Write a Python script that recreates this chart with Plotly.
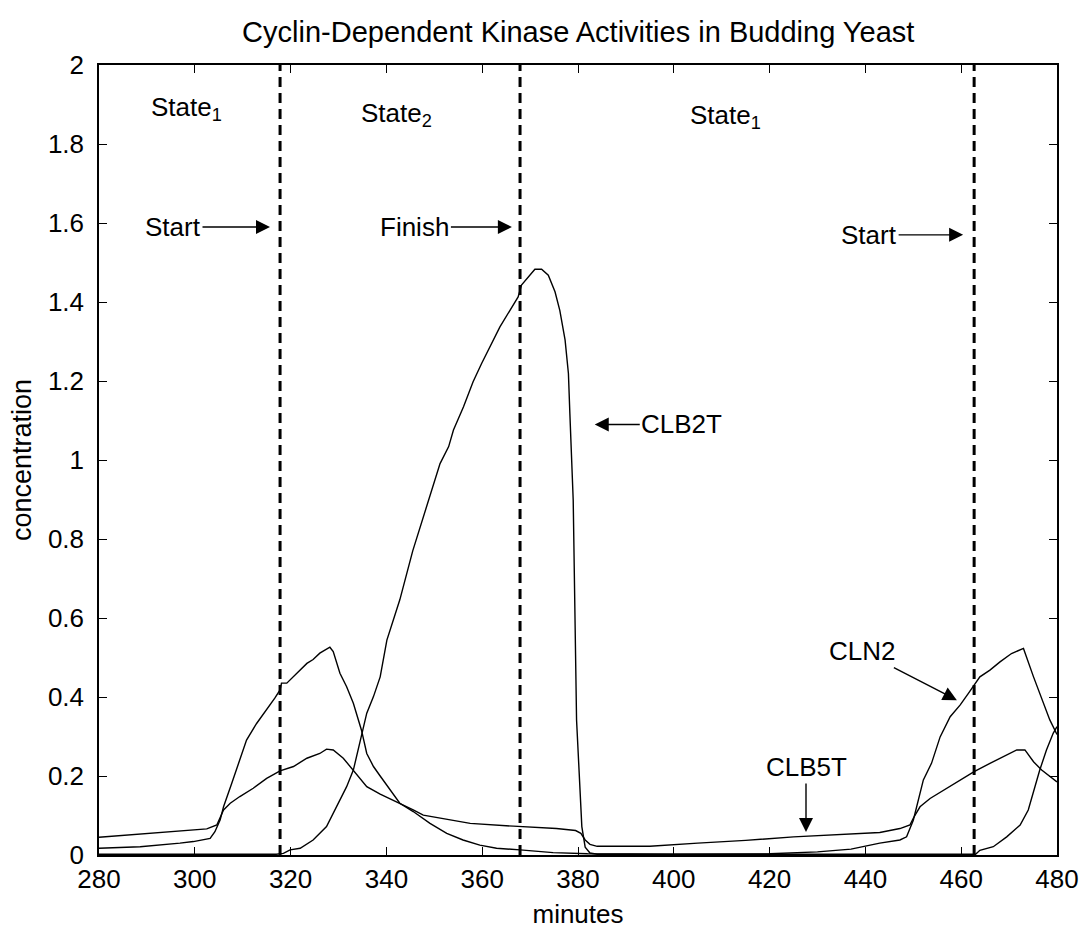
import plotly.graph_objects as go

# ---------------- data ----------------
cln2_t = [280, 288.6, 296.9, 299.7, 303.2, 304.2, 305.3, 306.0, 307.7, 309.1, 310.8, 312.9, 315.0,
          316.7, 317.8, 318.1, 319.2, 321.3, 323.4, 324.7, 326.1, 328.2, 328.9, 330.3, 331.7, 333.1,
          334.8, 335.9, 337.3, 338.7, 340.7, 342.8, 345.6, 349.1, 352.6, 356.0, 359.5, 363.0, 367.9,
          374.8, 382, 400, 420, 430, 437, 443, 447.2, 448.6, 450.0, 452.1, 453.8, 455.6, 457.7, 459.8,
          461.5, 462.7, 463.9, 466.0, 468.1, 470.5, 473.0, 475.1, 476.8, 478.5, 480]
cln2_v = [0.017, 0.021, 0.030, 0.034, 0.042, 0.059, 0.089, 0.122, 0.181, 0.232, 0.291, 0.333, 0.367,
          0.397, 0.418, 0.435, 0.435, 0.460, 0.485, 0.495, 0.511, 0.526, 0.515, 0.460, 0.426, 0.384,
          0.316, 0.257, 0.224, 0.200, 0.165, 0.131, 0.110, 0.080, 0.055, 0.038, 0.025, 0.017, 0.013,
          0.006, 0.003, 0.002, 0.003, 0.008, 0.015, 0.030, 0.038, 0.046, 0.088, 0.190, 0.232, 0.299,
          0.350, 0.380, 0.409, 0.430, 0.451, 0.468, 0.489, 0.510, 0.523, 0.451, 0.396, 0.342, 0.305]

clb5t_t = [280, 291.3, 298.3, 302.5, 304.6, 306.0, 307.4, 309.4, 312.2, 315.0, 317.8, 320.6, 323.4,
           326.1, 327.5, 328.9, 331.0, 333.1, 335.9, 338.7, 342.1, 345.6, 347.7, 352.6, 357.5, 366.5,
           375.5, 379.5, 380.6, 381.5, 382.5, 384, 395, 405, 415, 425, 435, 443, 447.2, 449.3, 450.0,
           451.4, 453.5, 457.0, 459.8, 462.7, 466.0, 469.5, 471.6, 473.3, 475.1, 476.8, 480]
clb5t_v = [0.045, 0.055, 0.063, 0.066, 0.076, 0.114, 0.131, 0.148, 0.169, 0.194, 0.213, 0.224, 0.245,
           0.257, 0.268, 0.266, 0.245, 0.215, 0.173, 0.154, 0.135, 0.114, 0.101, 0.090, 0.080, 0.073,
           0.067, 0.062, 0.055, 0.038, 0.027, 0.022, 0.022, 0.030, 0.037, 0.046, 0.053, 0.057, 0.067,
           0.076, 0.093, 0.122, 0.143, 0.169, 0.190, 0.211, 0.232, 0.253, 0.266, 0.266, 0.236, 0.215,
           0.185]

clb2t_t = [280, 317, 318.5, 319.9, 322.0, 324.7, 327.5, 329.6, 331.7, 333.1, 334.5, 335.9, 337.3,
           338.7, 340.1, 341.4, 342.8, 345.5, 349.1, 351.2, 353.0, 354.0, 356.1, 358.1, 359.9, 362.0, 363.7,
           365.8, 367.5, 368.2, 370.0, 371.0, 372.4, 373.8, 375.2, 376.2, 377.3, 378.0, 378.3, 378.7,
           379.0, 379.7, 380.4, 380.8, 381.5, 382.5, 384, 463, 463.9, 466.7, 469.5, 472.3, 474.0,
           475.4, 476.4, 477.8, 479.2, 480]
clb2t_v = [0.002, 0.002, 0.004, 0.013, 0.017, 0.038, 0.072, 0.122, 0.173, 0.215, 0.291, 0.359, 0.401,
           0.451, 0.544, 0.595, 0.646, 0.770, 0.907, 0.991, 1.034, 1.076, 1.135, 1.198, 1.245, 1.295, 1.337,
           1.379, 1.413, 1.443, 1.468, 1.483, 1.483, 1.468, 1.426, 1.379, 1.304, 1.219, 1.118, 0.983,
           0.898, 0.342, 0.173, 0.072, 0.020, 0.005, 0.002, 0.002, 0.012, 0.021, 0.046, 0.076, 0.114,
           0.173, 0.215, 0.266, 0.308, 0.325]

event_times = [317.8, 367.9, 462.7]
x_ticks = [280, 300, 320, 340, 360, 380, 400, 420, 440, 460, 480]
y_ticks = [0, 0.2, 0.4, 0.6, 0.8, 1.0, 1.2, 1.4, 1.6, 1.8, 2.0]
y_ticktext = ["0", "0.2", "0.4", "0.6", "0.8", "1", "1.2", "1.4", "1.6", "1.8", "2"]

FONT = "Liberation Sans, Arial, sans-serif"

fig = go.Figure()
for name, t, v in [("CLN2", cln2_t, cln2_v), ("CLB5T", clb5t_t, clb5t_v), ("CLB2T", clb2t_t, clb2t_v)]:
    fig.add_trace(go.Scatter(x=t, y=v, mode="lines", name=name,
                             line=dict(color="black", width=1.4), showlegend=False))

for et in event_times:
    fig.add_shape(type="line", x0=et, x1=et, y0=0, y1=2, xref="x", yref="y",
                  line=dict(color="black", width=3, dash="10px,6px"))

afont = dict(family=FONT, size=26, color="black")

# state labels
for x, y, txt in [(298.2, 1.89, "State<sub>1</sub>"), (342.2, 1.875, "State<sub>2</sub>"),
                  (410.7, 1.87, "State<sub>1</sub>")]:
    fig.add_annotation(x=x, y=y, text=txt, showarrow=False, font=afont)

# arrow annotations
arrows = [
    dict(x=315.7, y=1.59, text="Start", ax=-97, ay=0),
    dict(x=366.2, y=1.59, text="Finish", ax=-97, ay=0),
    dict(x=460.4, y=1.57, text="Start", ax=-94, ay=0),
    dict(x=383.5, y=1.09, text="CLB2T", ax=87, ay=0),
    dict(x=427.6, y=0.058, text="CLB5T", ax=0, ay=-65),
    dict(x=459.1, y=0.392, text="CLN2", ax=-95, ay=-49),
]
for a in arrows:
    fig.add_annotation(x=a["x"], y=a["y"], text=a["text"], ax=a["ax"], ay=a["ay"],
                       showarrow=True, arrowhead=2, arrowsize=2.0, arrowwidth=1.4,
                       arrowcolor="black", font=afont)

fig.update_layout(
    width=1083, height=940,
    paper_bgcolor="white", plot_bgcolor="white",
    margin=dict(l=99, r=26, t=65, b=85, autoexpand=False),
    title=dict(text="Cyclin-Dependent Kinase Activities in Budding Yeast",
               x=0.5339, xanchor="center", y=0.966, yanchor="middle",
               font=dict(family=FONT, size=29, color="black")),
    font=dict(family=FONT, color="black"),
)
fig.update_xaxes(range=[280, 480], tickvals=x_ticks, showgrid=False, zeroline=False,
                 showline=True, mirror="ticks", linecolor="black", linewidth=1.5,
                 ticks="inside", ticklen=8, tickwidth=1, tickcolor="black", automargin=False,
                 tickfont=dict(family=FONT, size=26, color="black"),
                 title=dict(text="minutes", font=dict(family=FONT, size=26, color="black"), standoff=12))
fig.update_yaxes(range=[0, 2], tickvals=y_ticks, ticktext=y_ticktext, showgrid=False, zeroline=False,
                 showline=True, mirror="ticks", linecolor="black", linewidth=1.5,
                 ticks="inside", ticklen=8, tickwidth=1, tickcolor="black", automargin=False,
                 ticklabelstandoff=8,
                 tickfont=dict(family=FONT, size=26, color="black"),
                 title=dict(text="concentration", font=dict(family=FONT, size=27, color="black"), standoff=8))

fig.write_html("out.html")
